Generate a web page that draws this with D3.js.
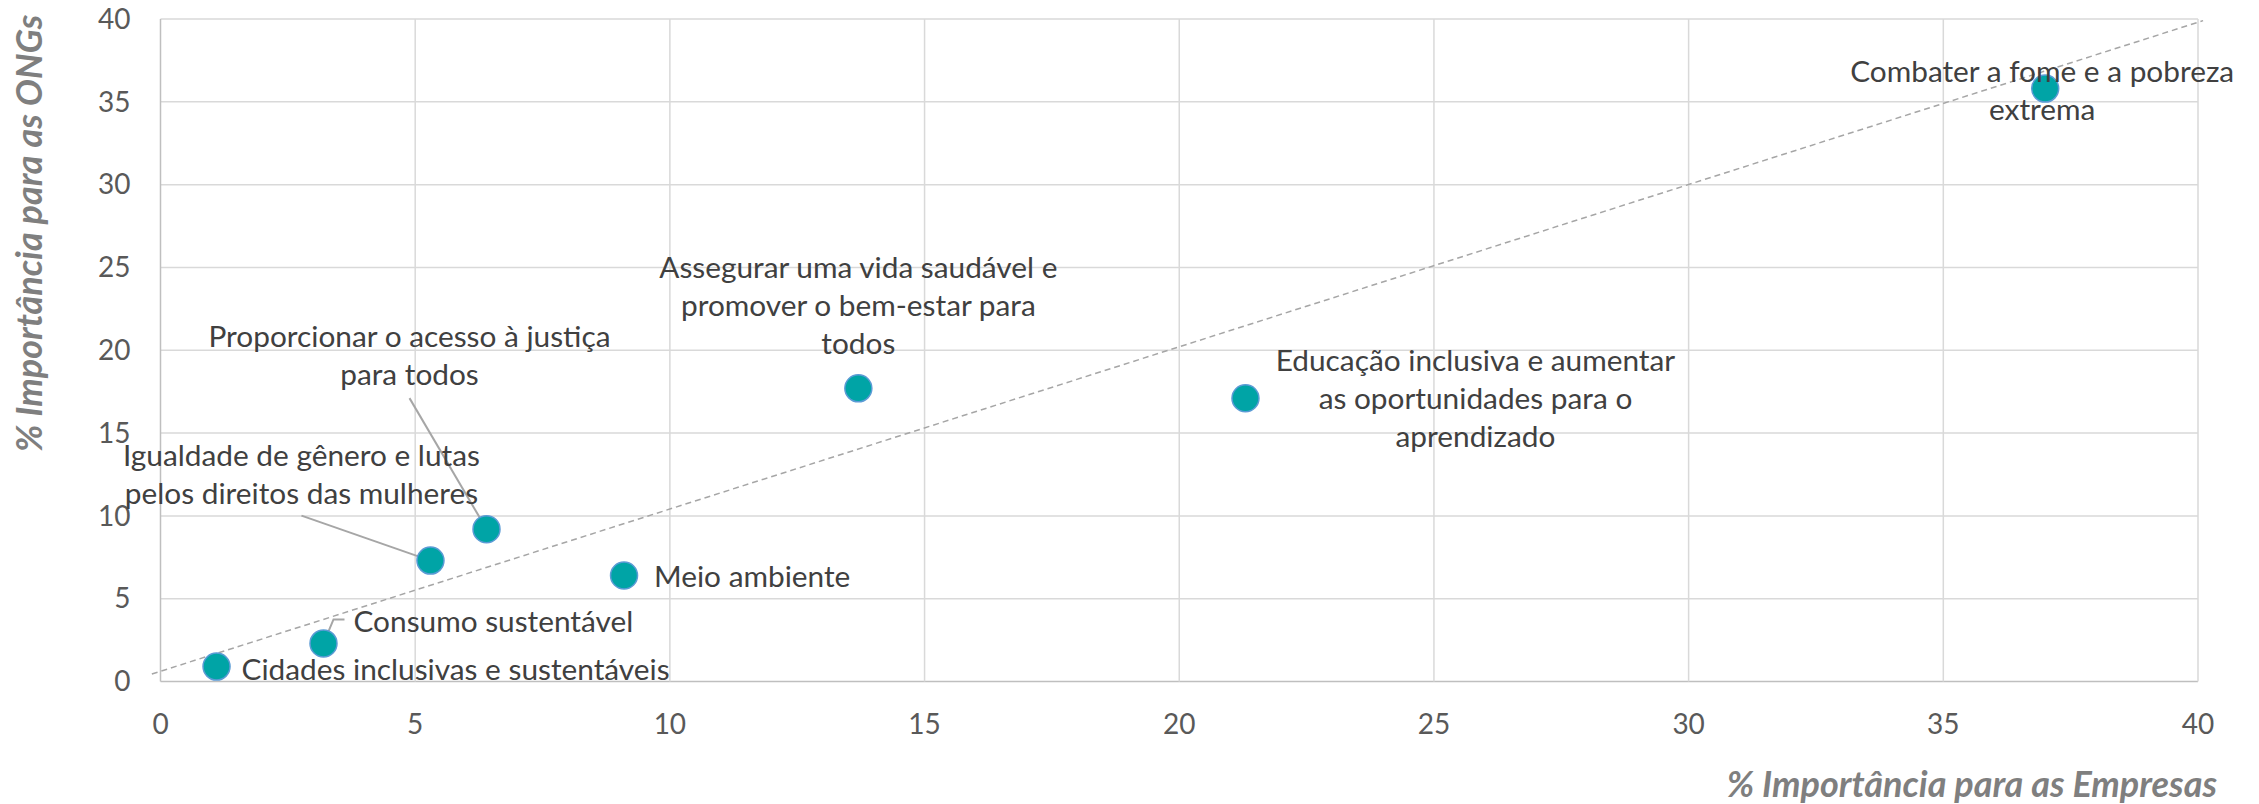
<!DOCTYPE html>
<meta charset="utf-8">
<script src="https://d3js.org/d3.v7.min.js"></script>
<style>
body { margin: 0; background: #fff; }
.tick-label { font-family: Lato, sans-serif; font-size: 28px; fill: #595959; }
.pt-label { font-family: Lato, sans-serif; font-size: 29.8px; fill: #404040; }
.axis-title { font-family: Lato, sans-serif; font-size: 36px; font-weight: bold; font-style: italic; fill: #7f7f7f; }
</style>
<body>
<script>
// values
var causes = [
  "Combater a fome e a pobreza|extrema",
  "Assegurar uma vida saudável e|promover o bem-estar para|todos",
  "Educação inclusiva e aumentar|as oportunidades para o|aprendizado",
  "Proporcionar o acesso à justiça|para todos",
  "Igualdade de gênero e lutas|pelos direitos das mulheres",
  "Meio ambiente",
  "Consumo sustentável",
  "Cidades inclusivas e sustentáveis"
];
var empresas = [37.0, 13.7, 21.3, 6.4, 5.3, 9.1, 3.2, 1.1];
var ongs = [35.8, 17.7, 17.1, 9.2, 7.3, 6.4, 2.3, 0.9];
var xTicks = [0, 5, 10, 15, 20, 25, 30, 35, 40];
var yTicks = [0, 5, 10, 15, 20, 25, 30, 35, 40];
var refLine = [[-0.17, 0.45], [40.1, 39.9]];

// label placement (pixels, relative to the point)
var labelPos = [
  {dx: -3, dy: -7, anchor: "middle"},
  {dx: 0, dy: -110, anchor: "middle"},
  {dx: 230, dy: -27, anchor: "middle"},
  {dx: -77, dy: -182, anchor: "middle", leader: [[-77, -131], [0, 0]]},
  {dx: -129, dy: -95, anchor: "middle", leader: [[-129, -45], [0, 0]]},
  {dx: 30, dy: 11, anchor: "start"},
  {dx: 30, dy: -11, anchor: "start", leader: [[0, 0], [10, -24], [21, -24]]},
  {dx: 25, dy: 13, anchor: "start"}
];

var W = 2259, H = 804;
var margin = {left: 160.5, top: 19, right: 61, bottom: 122.5};
var w = W - margin.left - margin.right, h = H - margin.top - margin.bottom;

var svg = d3.select("body").append("svg")
  .attr("width", W).attr("height", H);

var x = d3.scaleLinear().domain([0, 40]).range([0, w]);
var y = d3.scaleLinear().domain([0, 40]).range([h, 0]);

var g = svg.append("g").attr("transform", "translate(" + margin.left + "," + margin.top + ")");

// grid
g.selectAll(".hgrid").data(yTicks).enter().append("line")
  .attr("x1", 0).attr("x2", w)
  .attr("y1", d => y(d)).attr("y2", d => y(d))
  .attr("stroke", d => d === 0 ? "#bfbfbf" : "#d9d9d9").attr("stroke-width", 1.5);
g.selectAll(".vgrid").data(xTicks).enter().append("line")
  .attr("y1", 0).attr("y2", h)
  .attr("x1", d => x(d)).attr("x2", d => x(d))
  .attr("stroke", d => d === 0 ? "#bfbfbf" : "#d9d9d9").attr("stroke-width", 1.5);

// tick labels
g.selectAll(".ytl").data(yTicks).enter().append("text")
  .attr("class", "tick-label")
  .attr("x", -30).attr("y", d => y(d)).attr("dy", "0.35em")
  .attr("text-anchor", "end").text(d => d);
g.selectAll(".xtl").data(xTicks).enter().append("text")
  .attr("class", "tick-label")
  .attr("x", d => x(d)).attr("y", h + 52)
  .attr("text-anchor", "middle").text(d => d);

// reference line
g.append("line")
  .attr("x1", x(refLine[0][0])).attr("y1", y(refLine[0][1]))
  .attr("x2", x(refLine[1][0])).attr("y2", y(refLine[1][1]))
  .attr("stroke", "#a6a6a6").attr("stroke-width", 1.5)
  .attr("stroke-dasharray", "6,4");

var pts = causes.map(function(c, i) {
  return {name: c, px: x(empresas[i]), py: y(ongs[i]), lp: labelPos[i]};
});

// leader lines
pts.forEach(function(p) {
  if (!p.lp.leader) return;
  g.append("path")
    .attr("d", d3.line()(p.lp.leader.map(q => [p.px + q[0], p.py + q[1]])))
    .attr("fill", "none").attr("stroke", "#a6a6a6").attr("stroke-width", 2);
});

// points
g.selectAll(".dot").data(pts).enter().append("circle")
  .attr("cx", d => d.px).attr("cy", d => d.py).attr("r", 13.5)
  .attr("fill", "#00a4a6").attr("stroke", "#5b9bd5").attr("stroke-width", 1.5);

// labels
pts.forEach(function(p) {
  var t = g.append("text").attr("class", "pt-label")
    .attr("text-anchor", p.lp.anchor);
  p.name.split("|").forEach(function(line, k) {
    t.append("tspan").attr("x", p.px + p.lp.dx)
      .attr("y", p.py + p.lp.dy + k * 38).text(line);
  });
});

// axis titles
svg.append("text").attr("class", "axis-title")
  .attr("x", 2217).attr("y", 797).attr("text-anchor", "end")
  .text("% Importância para as Empresas");
svg.append("text").attr("class", "axis-title")
  .attr("transform", "translate(42,452) rotate(-90)")
  .attr("text-anchor", "start")
  .text("% Importância para as ONGs");
</script>
</body>
